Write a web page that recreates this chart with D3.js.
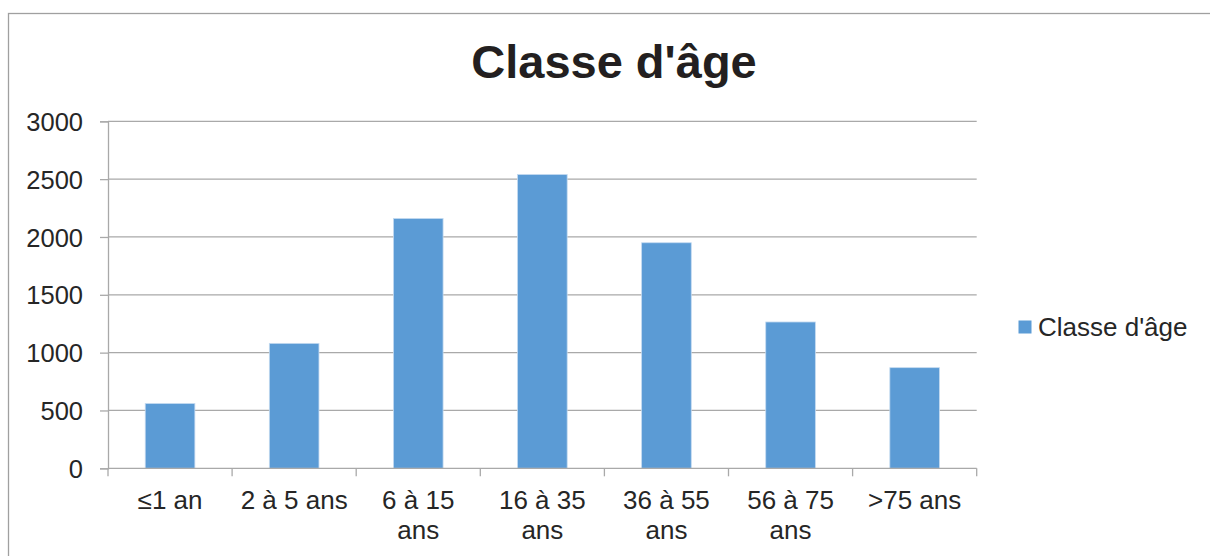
<!DOCTYPE html>
<html>
<head>
<meta charset="utf-8">
<script src="https://cdn.jsdelivr.net/npm/d3@7"></script>
<style>
  body { margin: 0; background: #fff; }
  svg { display: block; font-family: "Liberation Sans", Arial, sans-serif; }
</style>
</head>
<body>
<svg width="1210" height="556"></svg>
<script>
var categories = ["≤1 an", "2 à 5 ans", "6 à 15 ans", "16 à 35 ans", "36 à 55 ans", "56 à 75 ans", ">75 ans"]
var values = [560, 1080, 2160, 2540, 1950, 1265, 870]
var yTicks = [0, 500, 1000, 1500, 2000, 2500, 3000]
var seriesName = "Classe d'âge"
var chartTitle = "Classe d'âge"

function main(){
    var svg = d3.select("svg"),
        left = 108, right = 976.7,
        top = 121.3, bottom = 468.3,
        gridColor = "#a9a9a9",
        textColor = "#262626",
        barColor = "#5b9bd5"

    // outer chart border
    svg.append("rect")
        .attr("x", 8.5).attr("y", 13.5)
        .attr("width", 1300).attr("height", 700)
        .attr("fill", "none").attr("stroke", "#a0a0a0").attr("stroke-width", 1.3)

    svg.append("text")
        .attr("x", 614).attr("y", 78)
        .attr("text-anchor", "middle")
        .attr("font-size", 47).attr("font-weight", "bold")
        .attr("fill", "#231f20")
        .text(chartTitle)

    var xScale = d3.scaleBand().domain(categories).range([left, right]).paddingInner(0).paddingOuter(0),
        yScale = d3.scaleLinear().domain([0, 3000]).range([bottom, top])

    // gridlines
    svg.append("g").selectAll("line")
        .data(yTicks.filter(function(d){ return d > 0 }))
        .enter().append("line")
        .attr("x1", left).attr("x2", right)
        .attr("y1", function(d){ return yScale(d) })
        .attr("y2", function(d){ return yScale(d) })
        .attr("stroke", gridColor).attr("stroke-width", 1.3)

    // y axis
    var yAxis = svg.append("g")
        .attr("transform", "translate(" + left + ",0)")
        .call(d3.axisLeft(yScale).tickValues(yTicks).tickFormat(d3.format("d")).tickSize(8).tickPadding(17))
    yAxis.select(".domain").attr("stroke", gridColor).attr("stroke-width", 1.3)
    yAxis.selectAll(".tick line").attr("stroke", gridColor).attr("stroke-width", 1.3)
    yAxis.selectAll(".tick text")
        .attr("font-size", 25.5).attr("fill", textColor)
        .attr("font-family", "Liberation Sans, Arial, sans-serif")
        .attr("dy", "0.36em")

    // bars
    var bw = xScale.bandwidth() / 2.5
    svg.append("g").selectAll(".bar")
        .data(values)
        .enter().append("rect")
        .attr("class", "bar")
        .attr("x", function(d, i){ return xScale(categories[i]) + (xScale.bandwidth() - bw) / 2 })
        .attr("y", function(d){ return yScale(d) })
        .attr("width", bw)
        .attr("height", function(d){ return bottom - yScale(d) })
        .attr("fill", barColor)
        .attr("stroke", "#c4daf0").attr("stroke-width", 0.8)

    // x axis
    var xa = svg.append("g")
    xa.append("line")
        .attr("x1", left).attr("x2", right)
        .attr("y1", bottom).attr("y2", bottom)
        .attr("stroke", gridColor).attr("stroke-width", 1.3)
    var bounds = categories.map(function(c){ return xScale(c) }).concat([right])
    xa.selectAll(".xt").data(bounds).enter().append("line")
        .attr("x1", function(d){ return d }).attr("x2", function(d){ return d })
        .attr("y1", bottom).attr("y2", bottom + 8)
        .attr("stroke", gridColor).attr("stroke-width", 1.3)

    var labels = xa.selectAll(".xl").data(categories).enter().append("text")
        .attr("text-anchor", "middle")
        .attr("font-size", 26).attr("fill", textColor)
        .attr("x", function(d){ return xScale(d) + xScale.bandwidth() / 2 })
        .attr("y", 509)
        .text(function(d){ return d })

    // wrap labels wider than the category
    labels.each(function(d){
        var t = d3.select(this)
        if (this.getComputedTextLength() > 115) {
            var words = d.split(" "),
                last = words.pop(),
                cx = t.attr("x")
            t.text(null)
            t.append("tspan").attr("x", cx).text(words.join(" "))
            t.append("tspan").attr("x", cx).attr("dy", 30).text(last)
        }
    })

    // legend
    svg.append("rect")
        .attr("x", 1018.5).attr("y", 320.5)
        .attr("width", 13).attr("height", 13)
        .attr("fill", barColor)
    svg.append("text")
        .attr("x", 1038).attr("y", 336)
        .attr("font-size", 26).attr("fill", textColor)
        .text(seriesName)
}
main()
</script>
</body>
</html>
